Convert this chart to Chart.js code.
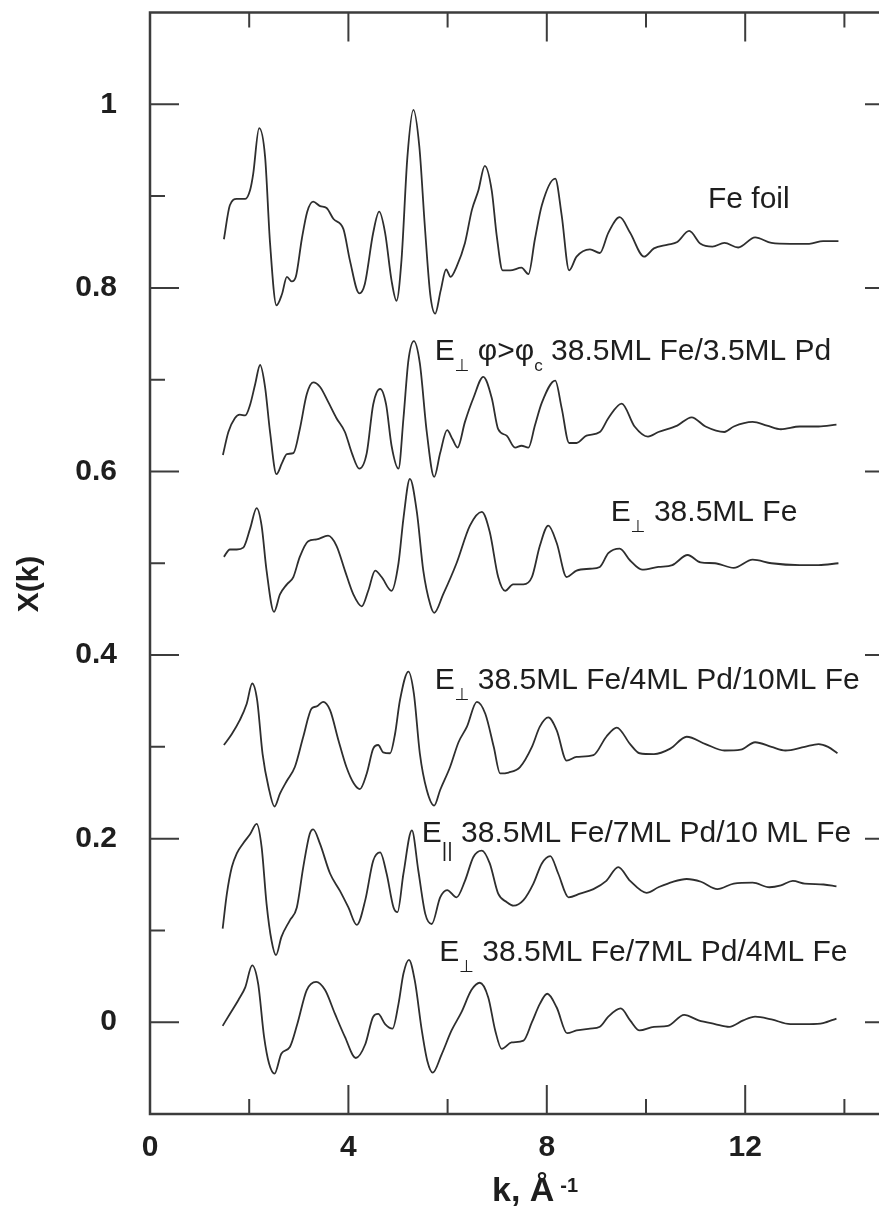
<!DOCTYPE html>
<html>
<head>
<meta charset="utf-8">
<script src="https://cdn.jsdelivr.net/npm/chart.js@4.4.1/dist/chart.umd.min.js"></script>
<style>
  html, body { margin: 0; padding: 0; background: #fff; overflow: hidden; }
  #wrap { width: 900px; height: 1209px; }
</style>
</head>
<body>
<div id="wrap"><canvas id="exafs" width="900" height="1209"></canvas></div>
<script>
// chi(k) spectra (each one already offset vertically)
const feFoilK = [1.49, 1.61, 1.75, 1.92, 2.02, 2.08, 2.20, 2.32, 2.42, 2.55, 2.66, 2.76, 2.86, 2.94, 3.06, 3.17, 3.29, 3.43, 3.56, 3.70,
  3.90, 4.03, 4.22, 4.33, 4.50, 4.62, 4.74, 4.87, 4.97, 5.07, 5.19, 5.31, 5.43, 5.54, 5.65, 5.75, 5.86, 5.97, 6.06, 6.18,
  6.35, 6.49, 6.62, 6.75, 6.89, 6.99, 7.11, 7.26, 7.49, 7.63, 7.76, 7.90, 8.17, 8.30, 8.45, 8.60, 8.87, 9.07, 9.24,
  9.47, 9.68, 9.96, 10.16, 10.44, 10.63, 10.87, 11.10, 11.34, 11.58, 11.86, 12.20, 12.53, 12.91, 13.29, 13.57, 13.88];
const feFoilChi = [0.853, 0.890, 0.897, 0.897, 0.907, 0.924, 0.974, 0.943, 0.849, 0.781, 0.793, 0.812, 0.807, 0.812, 0.853, 0.883, 0.894, 0.889, 0.887, 0.875,
  0.864, 0.830, 0.794, 0.804, 0.860, 0.883, 0.860, 0.808, 0.786, 0.830, 0.943, 0.994, 0.954, 0.868, 0.793, 0.772, 0.797, 0.820, 0.812, 0.823,
  0.849, 0.885, 0.906, 0.933, 0.906, 0.857, 0.819, 0.819, 0.822, 0.815, 0.853, 0.890, 0.919, 0.879, 0.819, 0.834, 0.842, 0.838, 0.860,
  0.877, 0.860, 0.834, 0.843, 0.847, 0.850, 0.862, 0.848, 0.845, 0.849, 0.844, 0.855, 0.849, 0.848, 0.848, 0.851, 0.851];

const pdCapK = [1.47, 1.58, 1.71, 1.81, 1.92, 2.02, 2.12, 2.22, 2.32, 2.42, 2.55, 2.66, 2.76, 2.89, 3.02, 3.16, 3.29, 3.43, 3.59, 3.76,
  3.93, 4.07, 4.22, 4.37, 4.50, 4.64, 4.76, 4.87, 5.01, 5.11, 5.21, 5.32, 5.44, 5.58, 5.73, 5.85, 5.99, 6.10, 6.20, 6.35,
  6.52, 6.72, 6.89, 7.02, 7.19, 7.36, 7.49, 7.63, 7.76, 7.90, 8.17, 8.30, 8.45, 8.60, 8.80, 9.07, 9.24,
  9.51, 9.77, 10.04, 10.25, 10.63, 10.92, 11.20, 11.58, 11.77, 12.15, 12.44, 12.72, 13.10, 13.48, 13.84];
const pdCapChi = [0.618, 0.643, 0.658, 0.662, 0.661, 0.673, 0.695, 0.716, 0.692, 0.643, 0.597, 0.609, 0.619, 0.620, 0.646, 0.684, 0.697, 0.692, 0.676, 0.658,
  0.643, 0.620, 0.603, 0.620, 0.673, 0.690, 0.673, 0.628, 0.603, 0.658, 0.721, 0.742, 0.718, 0.643, 0.594, 0.620, 0.645, 0.635, 0.626, 0.654,
  0.680, 0.703, 0.680, 0.646, 0.639, 0.626, 0.628, 0.626, 0.650, 0.675, 0.699, 0.669, 0.631, 0.631, 0.639, 0.643, 0.658,
  0.674, 0.649, 0.638, 0.643, 0.650, 0.659, 0.649, 0.643, 0.649, 0.654, 0.650, 0.646, 0.649, 0.649, 0.651];

const bareFeK = [1.49, 1.61, 1.75, 1.88, 2.02, 2.15, 2.25, 2.35, 2.50, 2.62, 2.76, 2.89, 3.02, 3.19, 3.36, 3.59, 3.76, 3.93, 4.10, 4.27,
  4.40, 4.54, 4.67, 4.87, 5.01, 5.11, 5.24, 5.38, 5.51, 5.65, 5.73, 5.91, 6.18, 6.45, 6.69, 6.85, 7.02, 7.16, 7.32, 7.53,
  7.70, 7.86, 8.03, 8.20, 8.40, 8.60, 8.87, 9.07, 9.24,
  9.47, 9.68, 9.92, 10.25, 10.53, 10.84, 11.10, 11.39, 11.77, 12.15, 12.53, 13.10, 13.48, 13.88];
const bareFeChi = [0.507, 0.515, 0.515, 0.517, 0.538, 0.560, 0.541, 0.492, 0.447, 0.466, 0.477, 0.485, 0.507, 0.524, 0.526, 0.530, 0.519, 0.492, 0.466, 0.453,
  0.470, 0.492, 0.485, 0.470, 0.500, 0.549, 0.592, 0.556, 0.492, 0.455, 0.446, 0.466, 0.500, 0.541, 0.556, 0.534, 0.485, 0.470, 0.477, 0.477,
  0.485, 0.519, 0.541, 0.522, 0.485, 0.492, 0.494, 0.496, 0.511,
  0.516, 0.503, 0.493, 0.496, 0.498, 0.509, 0.501, 0.500, 0.495, 0.504, 0.500, 0.498, 0.498, 0.500];

const pd4Fe10K = [1.49, 1.65, 1.81, 1.95, 2.06, 2.16, 2.27, 2.39, 2.51, 2.62, 2.76, 2.92, 3.09, 3.26, 3.36, 3.49, 3.63, 3.80, 3.96, 4.11,
  4.23, 4.37, 4.50, 4.60, 4.70, 4.84, 4.94, 5.04, 5.21, 5.32, 5.44, 5.58, 5.73, 5.85, 6.05, 6.22, 6.39, 6.59, 6.76, 6.93,
  7.06, 7.23, 7.46, 7.70, 7.86, 8.03, 8.20, 8.40, 8.60, 8.94, 9.20,
  9.41, 9.68, 9.87, 10.16, 10.49, 10.82, 11.20, 11.58, 11.91, 12.20, 12.53, 12.81, 13.20, 13.48, 13.67, 13.86];
const pd4Fe10Chi = [0.302, 0.314, 0.329, 0.347, 0.369, 0.351, 0.292, 0.256, 0.235, 0.249, 0.263, 0.278, 0.311, 0.342, 0.344, 0.349, 0.340, 0.307, 0.278, 0.260,
  0.254, 0.271, 0.298, 0.302, 0.294, 0.293, 0.314, 0.351, 0.382, 0.358, 0.293, 0.253, 0.236, 0.253, 0.278, 0.305, 0.322, 0.349, 0.336, 0.300,
  0.271, 0.272, 0.278, 0.300, 0.322, 0.332, 0.318, 0.285, 0.289, 0.291, 0.311,
  0.321, 0.303, 0.293, 0.292, 0.298, 0.311, 0.303, 0.296, 0.297, 0.305, 0.300, 0.296, 0.300, 0.303, 0.300, 0.293];

const pd7Fe10K = [1.465, 1.55, 1.65, 1.75, 1.88, 2.02, 2.15, 2.25, 2.35, 2.45, 2.54, 2.65, 2.82, 2.96, 3.09, 3.22, 3.29, 3.43, 3.63, 3.83,
  4.00, 4.17, 4.34, 4.50, 4.64, 4.77, 4.91, 4.99, 5.11, 5.28, 5.41, 5.55, 5.68, 5.85, 5.99, 6.18, 6.35, 6.52, 6.69, 6.85,
  7.02, 7.19, 7.33, 7.53, 7.73, 7.90, 8.07, 8.23, 8.44, 8.67, 8.94, 9.20,
  9.44, 9.68, 10.01, 10.25, 10.54, 10.82, 11.11, 11.44, 11.77, 12.15, 12.49, 12.72, 12.96, 13.20, 13.58, 13.84];
const pd7Fe10Chi = [0.102, 0.140, 0.169, 0.184, 0.195, 0.205, 0.216, 0.191, 0.129, 0.089, 0.073, 0.093, 0.111, 0.125, 0.169, 0.205, 0.210, 0.194, 0.162, 0.143,
  0.125, 0.106, 0.133, 0.176, 0.185, 0.162, 0.125, 0.120, 0.162, 0.209, 0.165, 0.118, 0.107, 0.136, 0.144, 0.136, 0.154, 0.180, 0.187, 0.173,
  0.140, 0.131, 0.127, 0.133, 0.151, 0.173, 0.181, 0.162, 0.136, 0.140, 0.145, 0.154,
  0.169, 0.154, 0.141, 0.147, 0.153, 0.156, 0.153, 0.145, 0.151, 0.152, 0.147, 0.149, 0.154, 0.151, 0.150, 0.148];

const pd7Fe4K = [1.465, 1.61, 1.78, 1.92, 2.06, 2.18, 2.30, 2.40, 2.51, 2.65, 2.82, 2.97, 3.16, 3.35, 3.53, 3.73, 3.93, 4.15, 4.34, 4.50,
  4.60, 4.74, 4.89, 5.01, 5.11, 5.22, 5.34, 5.48, 5.59, 5.70, 5.88, 6.08, 6.28, 6.48, 6.65, 6.82, 6.96, 7.09, 7.29, 7.53,
  7.70, 7.86, 8.01, 8.20, 8.41, 8.60, 8.87, 9.07, 9.24,
  9.49, 9.68, 9.87, 10.16, 10.44, 10.77, 11.06, 11.39, 11.68, 11.96, 12.20, 12.53, 12.91, 13.29, 13.57, 13.84];
const pd7Fe4Chi = [-0.004, 0.009, 0.024, 0.038, 0.062, 0.042, -0.016, -0.045, -0.056, -0.034, -0.027, -0.002, 0.035, 0.044, 0.035, 0.009, -0.016, -0.039, -0.024, 0.006,
  0.009, -0.002, -0.007, 0.020, 0.053, 0.068, 0.045, -0.009, -0.042, -0.055, -0.035, -0.009, 0.011, 0.035, 0.043, 0.027, -0.009, -0.029, -0.022, -0.020,
  0.000, 0.020, 0.031, 0.016, -0.012, -0.009, -0.007, -0.005, 0.006,
  0.015, 0.002, -0.009, -0.005, -0.004, 0.008, 0.002, -0.002, -0.005, 0.002, 0.006, 0.003, -0.002, -0.002, -0.001, 0.004];

// Axis ticks
const xTickValues = [0, 4, 8, 12];
const xMinorTicks = [2, 6, 10, 14];
const yTickValues = [0, 0.2, 0.4, 0.6, 0.8, 1];
const yTickLabels = ['0', '0.2', '0.4', '0.6', '0.8', '1'];
const yMinorTicks = [0.1, 0.3, 0.5, 0.7, 0.9];

// Curve captions, anchored in data units (left edge, baseline)
const curveLabels = [
  { k: 11.25, chi: 0.887, runs: [{ text: 'Fe foil' }] },
  { k: 5.74, chi: 0.721, runs: [{ text: 'E' }, { text: '⊥', sub: true }, { text: ' φ>φ' }, { text: 'c', sub: true }, { text: ' 38.5ML Fe/3.5ML Pd' }] },
  { k: 9.29, chi: 0.546, runs: [{ text: 'E' }, { text: '⊥', sub: true }, { text: ' 38.5ML Fe' }] },
  { k: 5.74, chi: 0.363, runs: [{ text: 'E' }, { text: '⊥', sub: true }, { text: ' 38.5ML Fe/4ML Pd/10ML Fe' }] },
  { k: 5.48, chi: 0.196, runs: [{ text: 'E' }, { text: '||', sub: true, size: 21, drop: 15 }, { text: ' 38.5ML Fe/7ML Pd/10 ML Fe' }] },
  { k: 5.83, chi: 0.067, runs: [{ text: 'E' }, { text: '⊥', sub: true }, { text: ' 38.5ML Fe/7ML Pd/4ML Fe' }] }
];

const series = [
  [feFoilK, feFoilChi],
  [pdCapK, pdCapChi],
  [bareFeK, bareFeChi],
  [pd4Fe10K, pd4Fe10Chi],
  [pd7Fe10K, pd7Fe10Chi],
  [pd7Fe4K, pd7Fe4Chi]
];

const FONT = "'Liberation Sans', Arial, 'DejaVu Sans', sans-serif";
const LINE_COLOR = '#2e2e2e';
const FRAME_COLOR = '#3c3c3c';
const TEXT_COLOR = '#1e1e1e';
const MAJOR_TICK = 29;
const MINOR_TICK = 15;

// Frame with inward ticks on all four sides
const frameTicks = {
  id: 'frameTicks',
  afterDatasetsDraw(chart) {
    const { ctx, chartArea: a, scales: { x, y } } = chart;
    ctx.save();
    ctx.strokeStyle = FRAME_COLOR;
    ctx.lineWidth = 2;
    ctx.beginPath();
    const xTick = (v, len) => {
      const px = x.getPixelForValue(v);
      ctx.moveTo(px, a.bottom); ctx.lineTo(px, a.bottom - len);
      ctx.moveTo(px, a.top); ctx.lineTo(px, a.top + len);
    };
    const yTick = (v, len) => {
      const py = y.getPixelForValue(v);
      ctx.moveTo(a.left, py); ctx.lineTo(a.left + len, py);
      ctx.moveTo(a.right, py); ctx.lineTo(a.right - len, py);
    };
    xTickValues.forEach(v => xTick(v, MAJOR_TICK));
    xMinorTicks.forEach(v => xTick(v, MINOR_TICK));
    yTickValues.forEach(v => yTick(v, MAJOR_TICK));
    yMinorTicks.forEach(v => yTick(v, MINOR_TICK));
    ctx.stroke();
    ctx.lineWidth = 2.5;
    ctx.strokeRect(a.left, a.top, a.right - a.left, a.bottom - a.top);
    ctx.restore();
  }
};

// Curve captions and the two axis titles
const captions = {
  id: 'captions',
  afterDraw(chart) {
    const { ctx, scales: { x, y } } = chart;
    ctx.save();
    ctx.fillStyle = TEXT_COLOR;
    ctx.textBaseline = 'alphabetic';
    ctx.textAlign = 'left';
    curveLabels.forEach(lbl => {
      let px = x.getPixelForValue(lbl.k);
      const py = y.getPixelForValue(lbl.chi);
      lbl.runs.forEach(r => {
        const size = r.sub ? (r.size || 17) : 30;
        ctx.font = size + 'px ' + FONT;
        ctx.fillText(r.text, px, py + (r.sub ? (r.drop || 11) : 0));
        px += ctx.measureText(r.text).width;
      });
    });

    // x title with superscript
    ctx.font = 'bold 34px ' + FONT;
    ctx.fillText('k, Å', 492, 1201);
    const w = ctx.measureText('k, Å').width;
    ctx.font = 'bold 20px ' + FONT;
    ctx.fillText('-1', 492 + w + 6, 1192);

    // y title, rotated
    ctx.translate(30, 584);
    ctx.rotate(-Math.PI / 2);
    ctx.textAlign = 'center';
    ctx.textBaseline = 'middle';
    ctx.font = 'bold 30px ' + FONT;
    ctx.fillText('X(k)', 0, 0);
    ctx.restore();
  }
};

const datasets = series.map(([k, chi]) => ({
  data: k.map((kv, i) => ({ x: kv, y: chi[i] })),
  borderColor: LINE_COLOR,
  borderWidth: 1.8,
  pointRadius: 0,
  fill: false,
  cubicInterpolationMode: 'monotone'
}));

new Chart(document.getElementById('exafs'), {
  type: 'line',
  data: { datasets },
  options: {
    responsive: false,
    animation: false,
    devicePixelRatio: 1,
    layout: { padding: { top: 12.5, right: 6, left: 0, bottom: 0 } },
    plugins: {
      legend: { display: false },
      tooltip: { enabled: false }
    },
    scales: {
      x: {
        type: 'linear',
        min: 0,
        max: 15,
        grid: { display: false, drawTicks: false },
        border: { display: false },
        afterBuildTicks: s => { s.ticks = xTickValues.map(v => ({ value: v })); },
        afterFit: s => {
          s.height = 95;
          s.paddingLeft = 0; s.paddingRight = 0;
        },
        ticks: {
          font: { family: FONT, size: 30, weight: 'bold' },
          color: TEXT_COLOR,
          padding: 16,
          maxRotation: 0,
          autoSkip: false,
          callback: v => String(v)
        }
      },
      y: {
        type: 'linear',
        min: -0.1,
        max: 1.1,
        grid: { display: false, drawTicks: false },
        border: { display: false },
        afterBuildTicks: s => { s.ticks = yTickValues.map(v => ({ value: v })); },
        afterFit: s => {
          s.width = 150;
          s.paddingTop = 0; s.paddingBottom = 0;
        },
        ticks: {
          font: { family: FONT, size: 30, weight: 'bold' },
          color: TEXT_COLOR,
          padding: 33,
          autoSkip: false,
          callback: v => yTickLabels[yTickValues.indexOf(v)] ?? ''
        }
      }
    }
  },
  plugins: [frameTicks, captions]
});
</script>
</body>
</html>
